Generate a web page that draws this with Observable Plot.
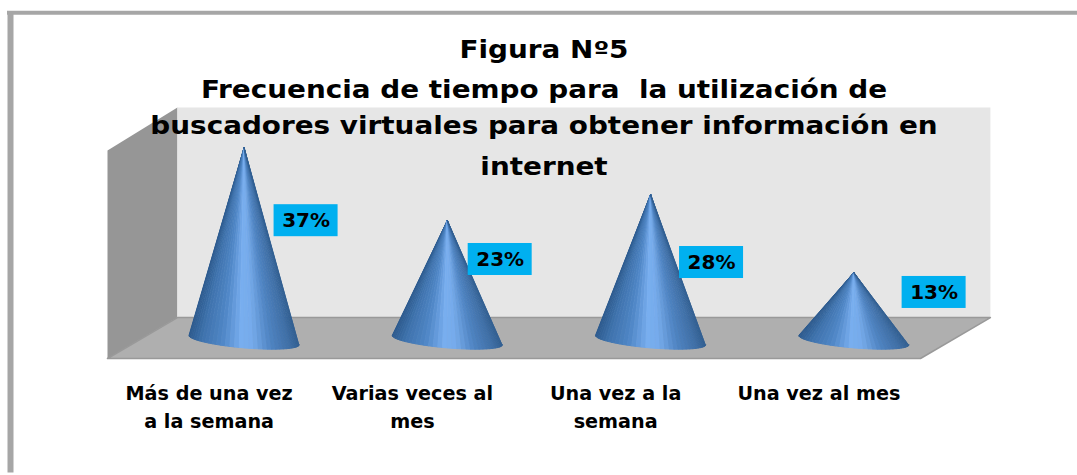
<!DOCTYPE html>
<html><head><meta charset="utf-8">
<script src="https://cdn.jsdelivr.net/npm/d3@7"></script>
<script src="https://cdn.jsdelivr.net/npm/@observablehq/plot@0.6"></script>
<style>html,body{margin:0;padding:0;background:#fff}svg{display:block}</style>
</head><body><div id="chart"></div>
<script>
const categories = ["Más de una vez a la semana","Varias veces al mes","Una vez a la semana","Una vez al mes"];
const values = [37,23,28,13];
const valueLabels = ["37%","23%","28%","13%"];
const titleLines = ["Figura Nº5","Frecuencia de tiempo para  la utilización de","buscadores virtuales para obtener información en","internet"];
const tickLines = [["Más de una vez","a la semana"],["Varias veces al","mes"],["Una vez a la","semana"],["Una vez al mes"]];

// layout constants of the 3-D box, in axis units
const axisMax = 40, depthX = 0.344, depthY = 7.88;
const pxX = 203.25, pxY = 5.2;
const x0 = -0.5, x1 = 3.5;
const labelDx = [0.305,0.26,0.30,0.395];   // category units from the cone axis
const labelDy = [-10.5,-3.96,-9.54,-0.3];  // percent units from the apex to the box centre
const tickRowY = [-6.9,-12.1];
const titleDy = [50,90,126,167];

const coneMidX = i => i + depthX/2;
const coneBaseY = depthY/2 - 0.4;
const a = 0.271, b = 1.5, tilt = 0.9;

function shade(u){ // u: 0..1 across the cone
  const stops = [[0,"#2c5a8e"],[0.12,"#3f73ad"],[0.3,"#4f86c6"],[0.48,"#78aeef"],[0.58,"#76abeb"],[0.75,"#4f84c2"],[0.92,"#3f6fa6"],[1,"#315f92"]];
  for (let k=1;k<stops.length;k++) if (u<=stops[k][0]) {
    const t=(u-stops[k-1][0])/(stops[k][0]-stops[k-1][0]);
    return d3.color(d3.interpolateRgb(stops[k-1][1],stops[k][1])(t)).formatHex();
  }
  return stops[stops.length-1][1];
}

const facets = [];
const N = 36;
values.forEach((v,i)=>{
  for (let k=0;k<N;k++){
    const t0 = Math.PI*k/N, t1 = Math.PI*(k+1)/N;
    const u = 1-(Math.cos((t0+t1)/2)+1)/2;
    const color = shade(u);
    const pt = t=>({x:coneMidX(i)-a*Math.cos(t), y:coneBaseY+tilt*Math.cos(t)-b*Math.sin(t)});
    const id = `${i}-${k}`;
    for (const p of [{x:coneMidX(i),y:coneBaseY+v},pt(t0),pt(t1)]) facets.push({...p,id,color});
  }
});

const backTop = axisMax + depthY + 0.4;
const backWall = [{x:x0+depthX,y:depthY},{x:x1+depthX,y:depthY},{x:x1+depthX,y:backTop},{x:x0+depthX,y:backTop},{x:x0+depthX,y:depthY}];
const leftWall = [{x:x0,y:0},{x:x0+depthX,y:depthY},{x:x0+depthX,y:backTop},{x:x0,y:axisMax},{x:x0,y:0}];
const floor = [{x:x0,y:0},{x:x1,y:0},{x:x1+depthX,y:depthY},{x:x0+depthX,y:depthY},{x:x0,y:0}];

const boxes = values.map((v,i)=>({cx:coneMidX(i)+labelDx[i],cy:v+labelDy[i],label:valueLabels[i]}));
const ticks = tickLines.flatMap((ls,i)=>ls.map((t,j)=>({t,x:i,y:tickRowY[j]})));
const stretchTitle = 1.16, stretchTick = 1.01;

const chart = Plot.plot({
  width:1077,height:475,margin:0,
  style:{background:"#fff",overflow:"visible"},
  x:{domain:[x0,x1],range:[107,920],axis:null},
  y:{domain:[0,axisMax],range:[358,150],axis:null},
  color:{type:"identity"},
  marks:[
    Plot.ruleX([x0-97/pxX],{y1:66.5,y2:-22,stroke:"#a6a6a6",strokeWidth:6}),
    Plot.ruleY([66.5],{x1:x0-100/pxX,x2:x1+157/pxX,stroke:"#a6a6a6",strokeWidth:4}),
    Plot.line(leftWall,{x:"x",y:"y",fill:"#969696",stroke:"none"}),
    Plot.line(backWall,{x:"x",y:"y",fill:"#e6e6e6",stroke:"none"}),
    Plot.line(floor,{x:"x",y:"y",fill:"#afafaf",stroke:"#999",strokeWidth:1.5}),
    Plot.line(facets,{x:"x",y:"y",z:"id",fill:"color",stroke:"color",strokeWidth:1,strokeLinejoin:"round"}),
    Plot.rect(boxes,{x1:d=>d.cx-32/pxX,x2:d=>d.cx+32/pxX,y1:d=>d.cy-16/pxY,y2:d=>d.cy+16/pxY,fill:"#00b0f0"}),
    Plot.text(boxes,{x:"cx",y:"cy",text:"label",fontSize:20,fontWeight:"bold",fill:"#000",fontFamily:"DejaVu Sans",className:"vlabel"}),
    Plot.text(ticks,{x:"x",y:"y",text:"t",fontSize:19,fontWeight:"bold",fill:"#000",fontFamily:"DejaVu Sans",className:"ticktext"}),
    ...titleLines.map((t,i)=>Plot.text([t],{frameAnchor:"top",dy:titleDy[i],dx:5,text:d=>d,fontSize:24,fontWeight:"bold",fill:"#000",fontFamily:"DejaVu Sans",lineAnchor:"middle",className:"titletext"}))
  ]
});
document.getElementById("chart").append(chart);
// the reference image is horizontally stretched: widen the glyphs the same way
function stretch(sel,f){
  chart.querySelectorAll(sel+" text").forEach(el=>{
    el.setAttribute("textLength",el.getComputedTextLength()*f);
    el.setAttribute("lengthAdjust","spacingAndGlyphs");
  });
}
stretch(".titletext",stretchTitle);
stretch(".ticktext",stretchTick);
</script></body></html>
